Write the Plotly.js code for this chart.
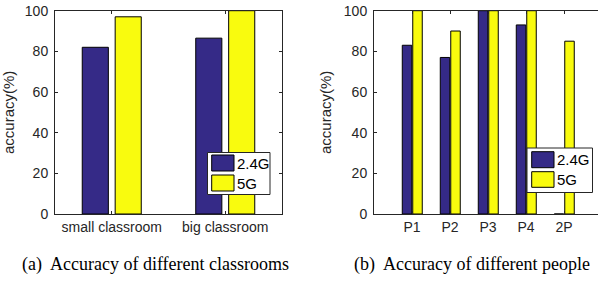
<!DOCTYPE html>
<html>
<head>
<meta charset="utf-8">
<script src="https://cdn.plot.ly/plotly-3.0.1.min.js"></script>
<style>
html,body{margin:0;padding:0;overflow:hidden;background:#fff;width:598px;height:281px;}
#chart{width:610px;height:281px;}
</style>
</head>
<body>
<div id="chart"></div>
<script>
// ---- data ----
const seriesNames = ["2.4G", "5G"];
const roomCategories = ["small classroom", "big classroom"];
const roomAcc24 = [82, 86.5];
const roomAcc5 = [97, 100];
const peopleCategories = ["P1", "P2", "P3", "P4", "2P"];
const peopleAcc24 = [83, 77, 100, 93, 0];
const peopleAcc5 = [100, 90, 100, 100, 85];
const yTicks = [0, 20, 40, 60, 80, 100];
const captionA = "(a)  Accuracy of different classrooms";
const captionB = "(b)  Accuracy of different people";

// ---- style ----
const W = 610, H = 281;
const colBlue = "#352a87", colYellow = "#f9fb0e";
const axisCol = "#262626";
const px = v => v / W;
const py = v => 1 - v / H;

const idx = a => a.map((_, i) => i + 1);

function barTrace(cats, vals, name, color, xa, ya, offset, width) {
  return {
    type: "bar", x: idx(cats), y: vals, name: name,
    xaxis: xa, yaxis: ya, offset: offset, width: width,
    marker: {color: color, line: {color: "#000", width: 1}},
    showlegend: false, hoverinfo: "skip"
  };
}

const data = [
  barTrace(roomCategories, roomAcc24, seriesNames[0], colBlue, "x", "y", -0.26, 0.23),
  barTrace(roomCategories, roomAcc5, seriesNames[1], colYellow, "x", "y", 0.03, 0.23),
  barTrace(peopleCategories, peopleAcc24, seriesNames[0], colBlue, "x2", "y2", -0.256, 0.25),
  barTrace(peopleCategories, peopleAcc5, seriesNames[1], colYellow, "x2", "y2", 0.02, 0.25)
];

const tickFont = {family: "Liberation Sans, Arial, sans-serif", size: 14, color: axisCol};

function xAxis(cats, range, dom) {
  return {
    domain: dom, range: range, tickmode: "array", tickvals: idx(cats), ticktext: cats,
    showline: true, linecolor: axisCol, linewidth: 1, mirror: "ticks",
    ticks: "inside", ticklen: 3, tickcolor: axisCol, showgrid: false, zeroline: false,
    tickfont: tickFont, fixedrange: true
  };
}
function yAxis(anchor, dom) {
  return {
    domain: dom, range: [0, 100], anchor: anchor, tickmode: "array", tickvals: yTicks,
    showline: true, linecolor: axisCol, linewidth: 1, mirror: "ticks",
    ticks: "inside", ticklen: 3, tickcolor: axisCol, showgrid: false, zeroline: false,
    tickfont: tickFont, ticklabelstandoff: 3,
    title: {text: "accuracy(%)", font: {family: "Liberation Sans, Arial, sans-serif", size: 15, color: axisCol}, standoff: 8},
    fixedrange: true
  };
}

const yDom = [py(214), py(10.7)];

function legendBox(x0, y0, x1, y1, sw) {
  const shapes = [{type: "rect", xref: "paper", yref: "paper", x0: px(x0), x1: px(x1), y0: py(y1), y1: py(y0),
    fillcolor: "#fff", line: {color: axisCol, width: 1}}];
  const anns = [];
  sw.forEach((s, i) => {
    shapes.push({type: "rect", xref: "paper", yref: "paper", x0: px(s.x0), x1: px(s.x1), y0: py(s.y1), y1: py(s.y0),
      fillcolor: s.c, line: {color: "#000", width: 1}});
    anns.push({xref: "paper", yref: "paper", x: px(s.x1 + 1), y: py((s.y0 + s.y1) / 2), xanchor: "left", yanchor: "middle",
      text: seriesNames[i], showarrow: false, font: {family: "Liberation Sans, Arial, sans-serif", size: 15, color: "#000"}});
  });
  return {shapes, anns};
}

const lgA = legendBox(207.5, 152.5, 270, 194.5, [
  {x0: 211.7, x1: 234, y0: 155, y1: 171, c: colBlue},
  {x0: 211.7, x1: 234, y0: 175, y1: 191, c: colYellow}
]);
const lgB = legendBox(527, 148, 592.5, 192.5, [
  {x0: 531.7, x1: 554, y0: 151.7, y1: 167.7, c: colBlue},
  {x0: 531.7, x1: 554, y0: 171.7, y1: 187.3, c: colYellow}
]);

const capFont = {family: "Liberation Serif, Times New Roman, serif", size: 18, color: "#000"};

const layout = {
  width: W, height: H, margin: {l: 0, r: 0, t: 0, b: 0},
  paper_bgcolor: "#fff", plot_bgcolor: "#fff",
  barmode: "overlay", showlegend: false,
  xaxis: xAxis(roomCategories, [0.5, 2.5], [px(55), px(282)]),
  yaxis: yAxis("x", yDom),
  xaxis2: Object.assign(xAxis(peopleCategories, [0, 6], [px(374), px(602)]), {anchor: "y2"}),
  yaxis2: yAxis("x2", yDom),
  shapes: lgA.shapes.concat(lgB.shapes),
  annotations: lgA.anns.concat(lgB.anns).concat([
    {xref: "paper", yref: "paper", x: px(155), y: py(264), text: captionA, showarrow: false, font: capFont, xanchor: "center", yanchor: "middle"},
    {xref: "paper", yref: "paper", x: px(471.5), y: py(264), text: captionB, showarrow: false, font: capFont, xanchor: "center", yanchor: "middle"}
  ])
};

Plotly.newPlot("chart", data, layout, {staticPlot: true, displayModeBar: false});
</script>
</body>
</html>
